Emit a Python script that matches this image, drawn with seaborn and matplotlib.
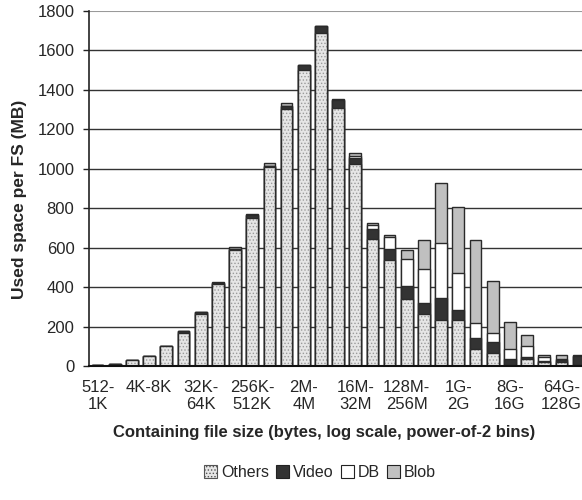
"""
Stacked bars of used space per file system, binned by containing file size.
"""

import pandas as pd
import matplotlib
matplotlib.use("Agg")
import matplotlib.pyplot as plt
from matplotlib.patches import Patch
import seaborn as sns

bins = [
    "512-1K", "1K-2K", "2K-4K", "4K-8K", "8K-16K", "16K-32K", "32K-64K",
    "64K-128K", "128K-256K", "256K-512K", "512K-1M", "1M-2M", "2M-4M",
    "4M-8M", "8M-16M", "16M-32M", "32M-64M", "64M-128M", "128M-256M",
    "256M-512M", "512M-1G", "1G-2G", "2G-4G", "4G-8G", "8G-16G",
    "16G-32G", "32G-64G", "64G-128G", "128G-256G",
]
others = [3, 10, 29, 52, 100, 165, 265, 415, 590, 752, 1010, 1305, 1500,
          1688, 1308, 1025, 643, 538, 340, 264, 233, 233, 88, 68, 2, 34,
          20, 22, 3]
video = [2, 2, 0, 0, 0, 10, 8, 8, 3, 13, 4, 12, 25, 34, 40, 30, 51, 56,
         66, 54, 111, 51, 56, 52, 36, 13, 6, 6, 50]
db = [0, 0, 0, 0, 0, 0, 0, 0, 0, 3, 0, 3, 0, 0, 3, 8, 22, 62, 135, 176,
      279, 186, 76, 49, 50, 54, 18, 10, 0]
blob = [0, 0, 0, 0, 0, 1, 1, 2, 9, 2, 15, 16, 3, 0, 3, 17, 8, 9, 48, 146,
        304, 334, 420, 262, 134, 56, 12, 20, 5]

tick_labels = ["512-\n1K", "4K-8K", "32K-\n64K", "256K-\n512K", "2M-\n4M",
               "16M-\n32M", "128M-\n256M", "1G-\n2G", "8G-\n16G",
               "64G-\n128G"]

sns.set_style("white")
plt.rcParams["font.family"] = ["Liberation Sans", "DejaVu Sans"]
plt.rcParams["hatch.linewidth"] = 0.6

df = pd.DataFrame({"bin": bins, "Others": others, "Video": video,
                   "DB": db, "Blob": blob})
df["c_video"] = df["Others"] + df["Video"]
df["c_db"] = df["c_video"] + df["DB"]
df["c_blob"] = df["c_db"] + df["Blob"]

fig = plt.figure(figsize=(5.82, 5.0), dpi=100)
ax = fig.add_axes([0.153, 0.268, 0.847, 0.71])

edge = "#2a2a2a"
common = dict(data=df, x="bin", order=bins, width=0.68, errorbar=None,
              ax=ax, zorder=3)

# cumulative layers drawn from the top down
sns.barplot(y="c_blob", color="#c0c0c0", edgecolor=edge, linewidth=1.0,
            **common)
sns.barplot(y="c_db", color="white", edgecolor=edge, linewidth=1.0,
            **common)
sns.barplot(y="c_video", color="#333333", edgecolor=edge, linewidth=1.0,
            **common)
sns.barplot(y="Others", color="#e6e6e6", edgecolor="#9a9a9a", hatch=".....",
            linewidth=0, **common)
sns.barplot(y="Others", color="none", facecolor="none", edgecolor=edge,
            linewidth=1.0, **common)

ax.set_ylim(0, 1800)
ax.set_xlim(-0.5, 28.2)
ax.set_yticks(range(0, 1801, 200))
ax.set_xticks(range(0, 28, 3), tick_labels)
ax.tick_params(axis="y", length=4.5, width=1, color="#222222", pad=6,
               labelsize=12, left=True)
ax.tick_params(axis="x", length=0, pad=10, labelsize=12)
for lab in ax.get_xticklabels():
    lab.set_linespacing(1.2)

for val in range(200, 1601, 200):
    ax.axhline(val, color="#333333", lw=1.0, zorder=1)
ax.axhline(1800, color="#9a9a9a", lw=1.5, zorder=1)

sns.despine(ax=ax, top=True, right=True)
ax.spines["left"].set_color("#222222")
ax.spines["left"].set_linewidth(1.2)
ax.spines["bottom"].set_color("#111111")
ax.spines["bottom"].set_linewidth(1.5)
ax.spines["bottom"].set_zorder(4)

ax.set_xlabel("")
ax.set_ylabel("")
fig.text(0.033, 0.602, "Used space per FS (MB)", rotation=90,
         ha="center", va="center", fontsize=12.5, fontweight="bold")
fig.text(0.557, 0.135, "Containing file size (bytes, log scale, power-of-2 bins)",
         ha="center", va="center", fontsize=12, fontweight="bold")

handles = [
    Patch(facecolor="#e6e6e6", edgecolor="#555555", hatch=".....", lw=0.8),
    Patch(facecolor="#333333", edgecolor="#222222", lw=0.8),
    Patch(facecolor="white", edgecolor="#222222", lw=0.8),
    Patch(facecolor="#c0c0c0", edgecolor="#222222", lw=0.8),
]
fig.legend(handles, ["Others", "Video", "DB", "Blob"], loc="center",
           bbox_to_anchor=(0.55, 0.055), ncol=4, frameon=False,
           fontsize=11.5, handlelength=0.8, handleheight=0.8,
           handletextpad=0.25, columnspacing=0.45)

fig.savefig("out.png", dpi=100)
plt.close(fig)
